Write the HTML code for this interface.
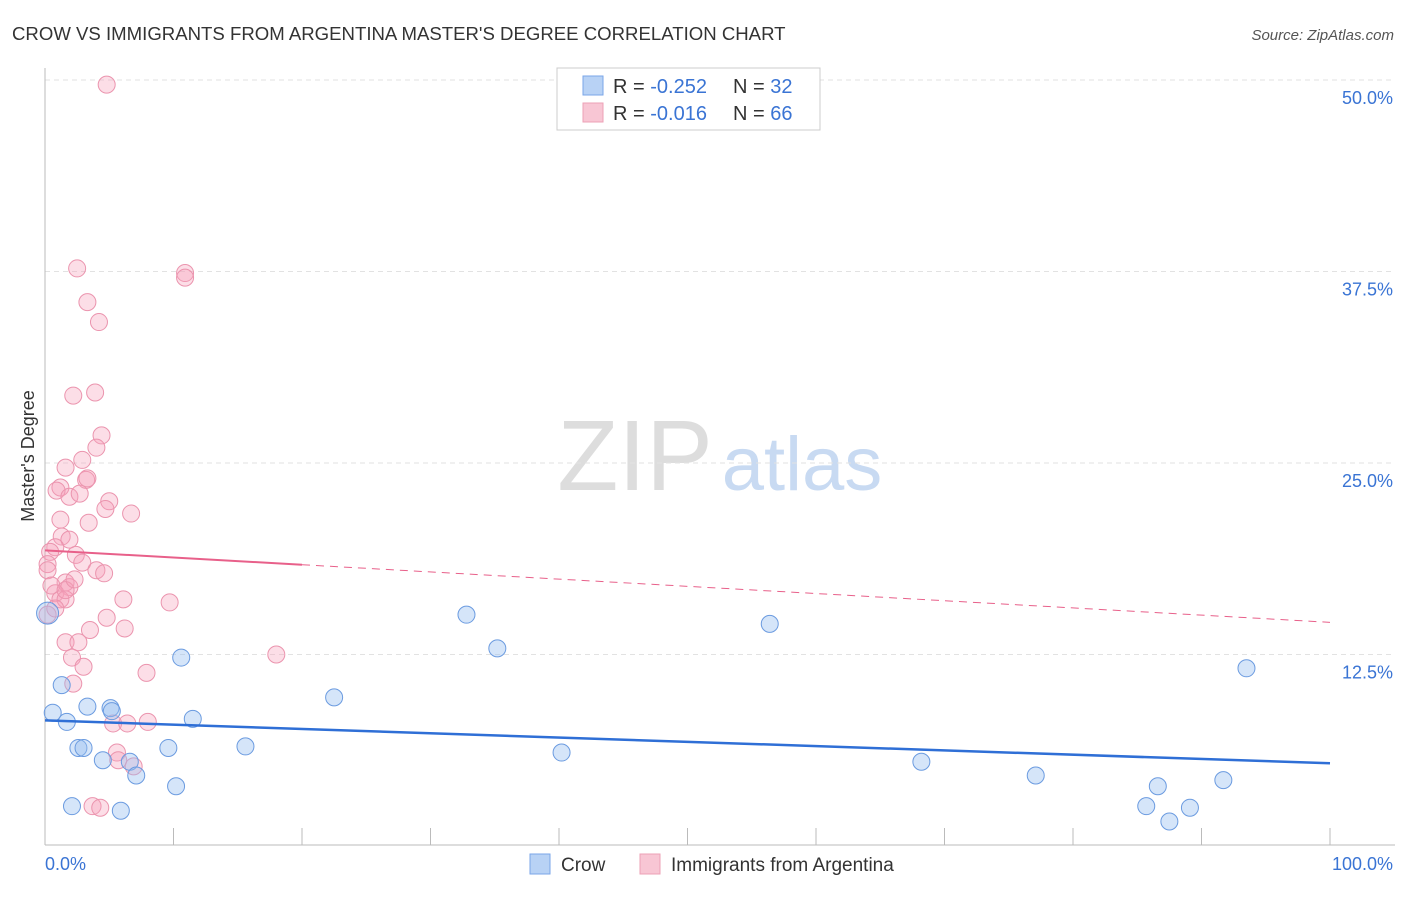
<!DOCTYPE html>
<html><head><meta charset="utf-8"><style>
body{margin:0;background:#fff;font-family:"Liberation Sans",sans-serif}
svg text{font-family:"Liberation Sans",sans-serif}
</style></head><body>
<svg width="1406" height="892" viewBox="0 0 1406 892" id="chart">
<text x="12" y="40" font-size="18.6" fill="#333">CROW VS IMMIGRANTS FROM ARGENTINA MASTER'S DEGREE CORRELATION CHART</text>
<text x="1394" y="40" font-size="15" fill="#555" font-style="italic" text-anchor="end">Source: ZipAtlas.com</text>
<text x="0" y="0" font-size="18" fill="#333" text-anchor="middle" transform="translate(34,456) rotate(-90)">Master's Degree</text>
<g><text x="635" y="490" font-size="100" fill="#ddd" font-family="Liberation Serif" text-anchor="middle">ZIP</text><text x="802" y="490" font-size="76" fill="#c8daf2" text-anchor="middle">atlas</text></g>
<g id="grid"></g><g id="axes"></g><g id="pts"></g><g id="trend"></g>
<g>
<rect x="557" y="68" width="263" height="62" fill="#fff" stroke="#ccc"/>
<rect x="583" y="76" width="20" height="19" fill="#b8d2f5" stroke="#7aa6e8"/>
<text x="613" y="93" font-size="20" fill="#333">R = <tspan fill="#3a74d4">-0.252</tspan></text>
<text x="733" y="93" font-size="20" fill="#333">N = <tspan fill="#3a74d4">32</tspan></text>
<rect x="583" y="103" width="20" height="19" fill="#f8c6d4" stroke="#eda0b6"/>
<text x="613" y="120" font-size="20" fill="#333">R = <tspan fill="#3a74d4">-0.016</tspan></text>
<text x="733" y="120" font-size="20" fill="#333">N = <tspan fill="#3a74d4">66</tspan></text>
</g>
<g>
<rect x="530" y="854" width="20" height="20" fill="#b8d2f5" stroke="#7aa6e8"/>
<text x="561" y="871" font-size="19" fill="#333">Crow</text>
<rect x="640" y="854" width="20" height="20" fill="#f8c6d4" stroke="#eda0b6"/>
<text x="671" y="871" font-size="19" fill="#333">Immigrants from Argentina</text>
</g>
</svg>
<script>
const yTicks=[12.5,25,37.5,50];
const yTickLabels=["12.5%","25.0%","37.5%","50.0%"];
const xTicks=[0,10,20,30,40,50,60,70,80,90,100];
const crowX=[0.2,1.3,0.6,3.3,5.1,5.2,1.7,11.5,10.6,2.6,3.0,4.5,6.6,7.1,9.6,10.2,2.1,5.9,15.6,22.5,32.8,35.2,40.2,56.4,68.2,77.1,86.6,85.7,87.5,89.1,91.7,93.5];
const crowY=[15.2,10.5,8.7,9.1,9.0,8.8,8.1,8.3,12.3,6.4,6.4,5.6,5.5,4.6,6.4,3.9,2.6,2.3,6.5,9.7,15.1,12.9,6.1,14.5,5.5,4.6,3.9,2.6,1.6,2.5,4.3,11.6];
const argX=[4.8,2.5,10.9,10.9,3.3,4.2,2.2,3.9,4.4,4.0,2.9,1.6,1.2,0.9,3.2,3.3,1.9,2.7,5.0,4.7,6.7,3.4,1.3,1.9,0.8,0.4,0.2,0.2,2.4,2.9,4.0,4.6,1.6,1.9,0.8,1.2,1.6,6.1,9.7,4.8,0.2,6.2,3.5,1.6,2.6,2.1,3.0,7.9,2.2,18.0,5.3,6.4,8.0,5.6,5.7,6.9,3.7,4.3,0.8,0.5,1.6,2.3,1.2];
const argY=[49.7,37.7,37.4,37.1,35.5,34.2,29.4,29.6,26.8,26.0,25.2,24.7,23.4,23.2,23.9,24.0,22.8,23.0,22.5,22.0,21.7,21.1,20.2,20.0,19.5,19.2,18.4,18.0,19.0,18.5,18.0,17.8,17.2,16.9,16.5,16.1,16.1,16.1,15.9,14.9,15.1,14.2,14.1,13.3,13.3,12.3,11.7,11.3,10.6,12.5,8.0,8.0,8.1,6.1,5.6,5.2,2.6,2.5,15.5,17.0,16.7,17.4,21.3];
const crowTrend=[8.2,5.4];
const argTrend=[19.3,14.6];
const NS="http://www.w3.org/2000/svg";
const sx=v=>45+v*12.85, sy=v=>846-v*15.32;
function mk(t,a,p){const e=document.createElementNS(NS,t);for(const k in a)e.setAttribute(k,a[k]);p.appendChild(e);return e;}
const grid=document.getElementById('grid'),axes=document.getElementById('axes'),pts=document.getElementById('pts'),tr=document.getElementById('trend');
yTicks.forEach((t,i)=>{
 const l=mk('line',{x1:45,x2:1395,y1:sy(t),y2:sy(t),stroke:'#e2e2e2','stroke-dasharray':'5,4'},grid);
 
 
 const tx=mk('text',{x:1393,y:sy(t)+24,'font-size':18,fill:'#3a74d4','text-anchor':'end'},axes);tx.textContent=yTickLabels[i];
 
 
});
const ax=mk('line',{x1:45,x2:1395,y1:845,y2:845,stroke:'#bbb'},axes);


const ay=mk('line',{x1:45,x2:45,y1:68,y2:845,stroke:'#bbb'},axes);


xTicks.forEach(t=>{const l=mk('line',{x1:sx(t),x2:sx(t),y1:828,y2:845,stroke:'#bbb'},axes);
 
 });
const x0=mk('text',{x:45,y:870,'font-size':18,fill:'#3a74d4'},axes);x0.textContent='0.0%';


const x1=mk('text',{x:1393,y:870,'font-size':18,fill:'#3a74d4','text-anchor':'end'},axes);x1.textContent='100.0%';


argX.forEach((x,i)=>{const c=mk('circle',{cx:sx(x),cy:sy(argY[i]),r:8.5,fill:'rgba(245,160,185,0.35)',stroke:'#eb94ae','stroke-width':1},pts);
 
 });
crowX.forEach((x,i)=>{const c=mk('circle',{cx:sx(x),cy:sy(crowY[i]),r:i==0?11:8.5,fill:'rgba(150,190,240,0.4)',stroke:'#6b9be0','stroke-width':1},pts);
 
 });
const bl=mk('line',{x1:sx(0),y1:sy(crowTrend[0]),x2:sx(100),y2:sy(crowTrend[1]),stroke:'#2f6fd6','stroke-width':2.5},tr);


const pm=argTrend[0]+(argTrend[1]-argTrend[0])*0.2;
const ps=mk('line',{x1:sx(0),y1:sy(argTrend[0]),x2:sx(20),y2:sy(pm),stroke:'#e8608a','stroke-width':2},tr);


const pd=mk('line',{x1:sx(20),y1:sy(pm),x2:sx(100),y2:sy(argTrend[1]),stroke:'#e8608a','stroke-width':1,'stroke-dasharray':'8,6'},tr);


</script>
</body></html>
